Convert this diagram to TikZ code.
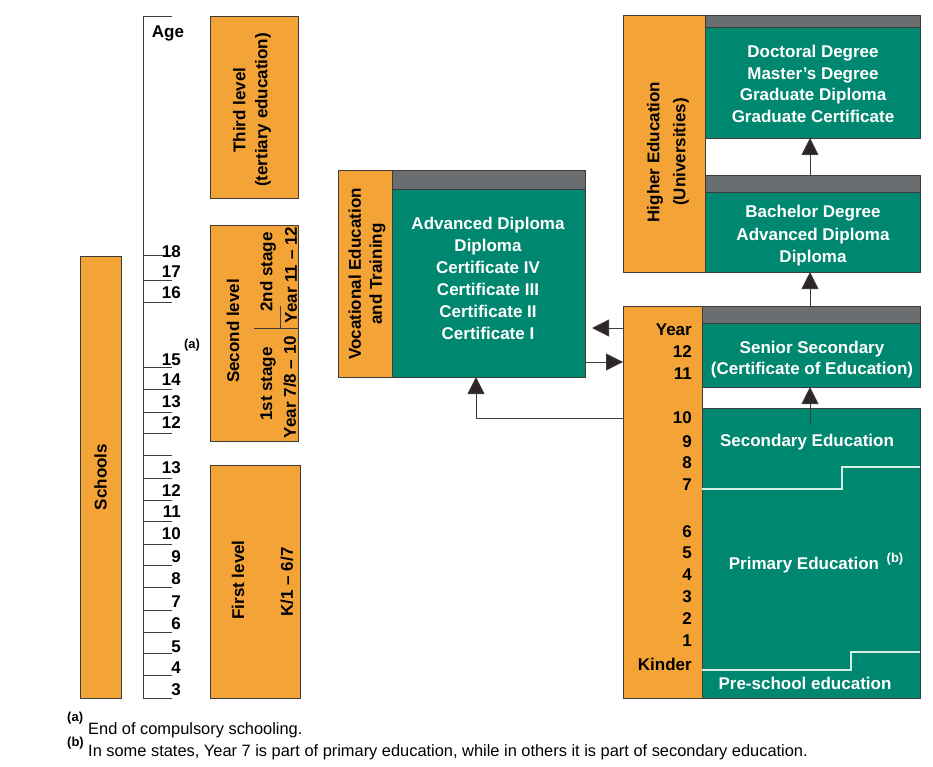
\documentclass[tikz,border=0pt]{standalone}
\usepackage{fontspec}
\setmainfont{Liberation Sans}
\usetikzlibrary{arrows.meta}
\definecolor{orng}{HTML}{F4A337}
\definecolor{grn}{HTML}{00876F}
\definecolor{gry}{HTML}{6A6E70}
\definecolor{edge}{HTML}{3C3C3C}
\definecolor{arrc}{HTML}{2E2626}
\definecolor{stepc}{HTML}{D5EEE6}
\begin{document}
\begin{tikzpicture}[x=1pt,y=-1pt,
 box/.style={draw=edge,line width=0.8pt,inner sep=0pt,outer sep=0pt,anchor=north west},
 obox/.style={box,fill=orng},
 gbox/.style={box,fill=grn},
 bbox/.style={box,fill=gry},
 wt/.style={text=white,font=\bfseries\fontsize{17}{22}\selectfont,align=center,inner sep=0pt},
 bt/.style={text=black,font=\bfseries\fontsize{17}{22}\selectfont,align=center,inner sep=0pt},
 num/.style={bt,anchor=east},
 sup/.style={text=black,font=\bfseries\fontsize{13}{14}\selectfont,inner sep=0pt},
 foot/.style={text=black,font=\fontsize{16.4}{18}\selectfont,inner sep=0pt,anchor=base west},
 tickline/.style={draw=edge,line width=0.7pt},
 arr/.style={draw=edge,line width=0.8pt,-{Triangle[width=17pt,length=17pt,fill=arrc]}},
 stepline/.style={draw=stepc,line width=1.2pt}
]
\useasboundingbox[fill=white] (0,0) rectangle (933,767);

% age axis
\draw[tickline] (143,16) -- (143,698);
\draw[tickline] (143,16) -- (172,16);
\foreach \t in {255.7,280,302.7,367.7,389,412,433,455.7,478,500,521.7,544,565.7,587.7,610,632,653,675.7,698}
  \draw[tickline] (143,\t) -- (172,\t);
\node[bt] (age) at (168,33) {Age};
\foreach \v/\y [count=\i] in {18/252,17/272,16/293,15/360,14/380,13/402,12/423}
  \node[num] (ageu\i) at (181,\y) {\v};
\foreach \v/\y [count=\i] in {13/468,12/490.7,11/512,10/534,9/557,8/579,7/601.7,6/624,5/646.7,4/668,3/690}
  \node[num] (agel\i) at (181,\y) {\v};
\node[sup] (supa) at (192,345) {(a)};

% left level boxes
\node[obox,minimum width=41pt,minimum height=442pt] (schools) at (80,256) {};
\node[bt,rotate=90] (schoolst) at (schools.center) {Schools};
\node[obox,minimum width=88pt,minimum height=182pt] (third) at (210,16) {};
\node[bt,rotate=90] (thirdt) at (252,110) {Third level\\(tertiary education)};
\node[obox,minimum width=88pt,minimum height=216pt] (second) at (210,225) {};
\node[bt,rotate=90] (secondt) at (233,331) {Second level};
\draw[tickline] (254,328) -- (second.east |- 0,328);
\draw[tickline] (280.5,306) -- (280.5,328);
\node[bt,rotate=90] (stage2) at (268,272) {2nd stage};
\node[bt,rotate=90] (year2) at (291,275) {Year 11 -- 12};
\node[bt,rotate=90] (stage1) at (268,384) {1st stage};
\node[bt,rotate=90] (year1) at (290,387) {Year 7/8 -- 10};
\node[obox,minimum width=90pt,minimum height=233pt] (first) at (210,465) {};
\node[bt,rotate=90] (firstt) at (238,580) {First level};
\node[bt,rotate=90] (firstk) at (287,582) {K/1 -- 6/7};

% vocational
\node[obox,minimum width=54pt,minimum height=207pt] (vocO) at (338,170) {};
\node[bt,rotate=90,font=\bfseries\fontsize{17}{21}\selectfont] (voct) at (367,274) {Vocational Education\\and Training};
\node[gbox,minimum width=193pt,minimum height=188pt] (vocG) at (392,189) {};
\node[bbox,minimum width=193pt,minimum height=19pt] (vocbar) at (392,170) {};
\node[wt] (voctxt) at (488,278) {Advanced Diploma\\Diploma\\Certificate IV\\Certificate III\\Certificate II\\Certificate I};

% higher education
\node[obox,minimum width=82pt,minimum height=257pt] (heO) at (623,15) {};
\node[bt,rotate=90,font=\bfseries\fontsize{17}{26}\selectfont] (het) at (668,152) {Higher Education\\(Universities)};
\node[gbox,minimum width=215pt,minimum height=111pt] (docG) at (705,27) {};
\node[bbox,minimum width=215pt,minimum height=12pt] (docbar) at (705,15) {};
\node[wt,font=\bfseries\fontsize{17}{21.7}\selectfont] (doctxt) at (813,84) {Doctoral Degree\\Master's Degree\\Graduate Diploma\\Graduate Certificate};
\node[gbox,minimum width=215pt,minimum height=80pt] (bachG) at (705,192) {};
\node[bbox,minimum width=215pt,minimum height=17pt] (bachbar) at (705,175) {};
\node[wt,font=\bfseries\fontsize{17}{22.5}\selectfont] (bachtxt) at (813,235.7) {Bachelor Degree\\Advanced Diploma\\Diploma};

% school years
\node[obox,minimum width=79pt,minimum height=392pt] (year) at (623,306) {};
\foreach \v/\y [count=\i] in {Year/330,12/352,11/374,10/418,9/442,8/463,7/485,6/532,5/553,4/575,3/597,2/619,1/641,Kinder/664}
  \node[num] (yr\i) at (692,\y) {\v};
\node[gbox,minimum width=218pt,minimum height=64pt] (senG) at (702,323) {};
\node[bbox,minimum width=218pt,minimum height=17pt] (senbar) at (702,306) {};
\node[wt,font=\bfseries\fontsize{17}{21}\selectfont] (sentxt) at (812,359.5) {Senior Secondary\\(Certificate of Education)};
\node[gbox,minimum width=218pt,minimum height=290pt] (sp) at (702,408) {};
\draw[stepline] (sp.west |- 0,489) -- (842,489) -- (842,467) -- (sp.east |- 0,467);
\draw[stepline] (sp.west |- 0,670) -- (851,670) -- (851,652) -- (sp.east |- 0,652);
\node[wt] (sectxt) at (807,442) {Secondary Education};
\node[wt] (primtxt) at (804,565) {Primary Education};
\node[sup,text=white] (supb) at (895,559) {(b)};
\node[wt] (pretxt) at (805,683) {Pre-school education};

% connectors
\coordinate (colA) at (810,0);
\coordinate (colV) at (476,0);
\coordinate (rowL) at (0,328);
\coordinate (rowR) at (0,362);
\coordinate (rowU) at (0,418);
\coordinate (spstem) at (810,425);
\draw[arr] (year.west |- rowL) -- ([xshift=7pt]vocG.east |- rowL);
\draw[arr] (vocG.east |- rowR) -- (year.west |- rowR);
\draw[arr] (year.west |- rowU) -| (vocG.south -| colV);
\draw[arr] (spstem) -- (senG.south -| colA);
\draw[arr] (senbar.north -| colA) -- (bachG.south -| colA);
\draw[arr] (bachbar.north -| colA) -- (docG.south -| colA);

% footnotes
\node[sup,anchor=base west] (fna) at (67,721) {(a)};
\node[foot] (fnat) at (88,734) {End of compulsory schooling.};
\node[sup,anchor=base west] (fnb) at (67,746) {(b)};
\node[foot] (fnbt) at (88,756) {In some states, Year 7 is part of primary education, while in others it is part of secondary education.};
\end{tikzpicture}
\end{document}
